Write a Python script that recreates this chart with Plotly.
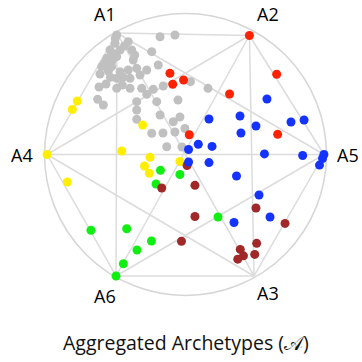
import plotly.graph_objects as go
import itertools

# Archetype vertices (normalised simplex-projection coordinates)
arch_names = ["A1", "A2", "A5", "A3", "A6", "A4"]
arch_x = [-0.493, 0.460, 0.996, 0.493, -0.500, -0.996]
arch_y = [0.874, 0.856, 0.000, -0.874, -0.874, 0.000]

# Label positions for the archetypes
label_x = [-0.579, 0.594, 1.170, 0.594, -0.576, -1.178]
label_y = [1.011, 1.011, -0.007, -0.996, -1.018, -0.007]

gray_x = [-0.495, -0.507, -0.412, -0.543, -0.471, -0.387, -0.567, -0.495, -0.376, -0.603,
          -0.531, -0.471, -0.412, -0.351, -0.615, -0.495, -0.399, -0.327, -0.279, -0.622,
          -0.572, -0.183, -0.076, -0.243, -0.196, -0.495, -0.399, -0.315, -0.232, -0.160,
          -0.279, -0.207, -0.351, -0.632, -0.591, -0.351, -0.183, -0.088, -0.040, -0.351,
          -0.243, -0.162, -0.076, -0.004, -0.135, -0.025, 0.036, 0.162, -0.054,
          -0.520, -0.440, -0.555, -0.585, -0.450, -0.540, -0.365, -0.505, -0.455, -0.530]
gray_y = [0.860, 0.800, 0.812, 0.752, 0.752, 0.752, 0.692, 0.704, 0.680, 0.632,
          0.632, 0.596, 0.608, 0.620, 0.579, 0.548, 0.548, 0.572, 0.608, 0.486,
          0.507, 0.847, 0.860, 0.740, 0.644, 0.476, 0.476, 0.476, 0.469, 0.493,
          0.433, 0.380, 0.380, 0.397, 0.356, 0.320, 0.284, 0.236, 0.270, 0.253,
          0.153, 0.155, 0.162, 0.187, 0.056, 0.054, 0.524, 0.476, 0.392,
          0.725, 0.780, 0.600, 0.655, 0.555, 0.555, 0.715, 0.835, 0.500, 0.670]

yellow_x = [-0.996, -0.778, -0.814, -0.459, -0.850, -0.308, -0.255, -0.295, -0.260, -0.040]
yellow_y = [0.000, 0.385, 0.324, 0.025, -0.198, 0.212, -0.020, -0.083, -0.135, -0.050]

green_x = [-0.180, -0.040, -0.212, -0.680, -0.423, -0.245, -0.349, -0.447, -0.500, 0.234]
green_y = [-0.114, -0.144, -0.212, -0.545, -0.534, -0.622, -0.687, -0.786, -0.874, -0.450]

brown_x = [0.011, 0.068, -0.171, 0.068, 0.507, 0.716, -0.029, 0.512, 0.394, 0.417, 0.376, 0.498]
brown_y = [-0.079, -0.222, -0.241, -0.446, -0.385, -0.496, -0.624, -0.639, -0.683, -0.729, -0.753, -0.719]

red_x = [0.460, 0.656, -0.112, -0.092, -0.014, 0.317, 0.027, 0.663]
red_y = [0.856, 0.577, 0.584, 0.505, 0.536, 0.435, 0.142, 0.145]

blue_x = [0.586, 0.169, 0.392, 0.507, 0.399, 0.759, 0.853, 0.092, 0.191, 0.022, 0.022,
          0.169, 0.568, 0.843, 0.996, 0.986, 0.964, 0.367, 0.529, 0.608, 0.349]
blue_y = [0.399, 0.255, 0.277, 0.205, 0.155, 0.234, 0.248, 0.074, 0.058, 0.036, -0.054,
          -0.058, 0.004, -0.007, 0.000, -0.029, -0.076, -0.155, -0.291, -0.450, -0.489]

title_text = "Aggregated Archetypes (𝒜)"

fig = go.Figure()

# complete graph between archetypes
ex, ey = [], []
for i, j in itertools.combinations(range(len(arch_x)), 2):
    ex += [arch_x[i], arch_x[j], None]
    ey += [arch_y[i], arch_y[j], None]
fig.add_trace(go.Scatter(x=ex, y=ey, mode="lines",
                         line=dict(color="#dcdcdc", width=1.5),
                         hoverinfo="skip", showlegend=False))

fig.add_shape(type="circle", xref="x", yref="y", x0=-1.014, y0=-1.014, x1=1.014, y1=1.014,
              line=dict(color="#d6d6d6", width=1.5), layer="below")

groups = [
    (gray_x, gray_y, "#c0c0c0"),
    (yellow_x, yellow_y, "#ffee00"),
    (green_x, green_y, "#11ee11"),
    (brown_x, brown_y, "#a02828"),
    (red_x, red_y, "#ff2200"),
    (blue_x, blue_y, "#1433ff"),
]
for gx, gy, col in groups:
    fig.add_trace(go.Scatter(x=gx, y=gy, mode="markers",
                             marker=dict(color=col, size=9, line=dict(width=0)),
                             showlegend=False))

for name, lx, ly in zip(arch_names, label_x, label_y):
    fig.add_annotation(x=lx, y=ly, text=name, showarrow=False,
                       xanchor="center", yanchor="middle",
                       font=dict(family="Open Sans, sans-serif", size=18, color="#000000"))

fig.add_annotation(x=0.0, y=-1.349, text=title_text, showarrow=False,
                   xanchor="center", yanchor="middle",
                   font=dict(family="Open Sans, DejaVu Sans, sans-serif", size=19.5, color="#111111"))

fig.update_layout(
    width=362, height=362,
    margin=dict(l=0, r=0, t=0, b=0),
    paper_bgcolor="white", plot_bgcolor="white",
    xaxis=dict(range=[-1.3345, 1.2698], visible=False, fixedrange=True),
    yaxis=dict(range=[-1.4928, 1.1115], visible=False, fixedrange=True),
)

fig.write_html("out.html", config={"displayModeBar": False},
               post_script="document.body.style.margin='0';document.body.style.overflow='hidden';")
